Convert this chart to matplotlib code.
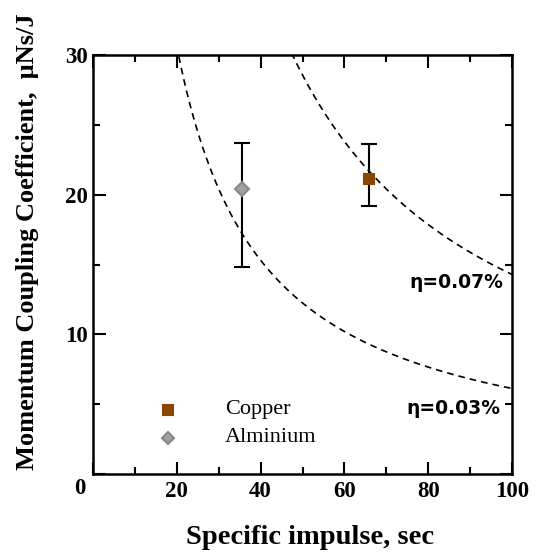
import numpy as np
import matplotlib
matplotlib.use("Agg")
import matplotlib.pyplot as plt
from matplotlib.ticker import MultipleLocator, FuncFormatter

# Data
materials = ["Copper", "Alminium"]
isp = [65.9, 35.5]
cm = [21.1, 20.4]
cm_low = [19.2, 14.8]
cm_high = [23.6, 23.7]
colors = ["#8B4500", "#A0A0A0"]
markers = ["s", "D"]
etas_percent = [0.07, 0.03]
eta_labels = ["η=0.07%", "η=0.03%"]
g = 9.8

fig = plt.figure(figsize=(5.36, 5.54), dpi=100)
ax = fig.add_axes([93/536, 1-474/554, (512-93)/536, (474-55)/554])

serif = "Liberation Serif"

# efficiency curves: Cm = 2*eta/(g*Isp)
x = np.linspace(1, 100, 400)
for e in etas_percent:
    k = 2 * e / g * 1e5
    ax.plot(x, k / x, linestyle=(0, (4, 3)), color="black", lw=1.2)

for i, name in enumerate(materials):
    ax.errorbar([isp[i]], [cm[i]],
                yerr=[[cm[i]-cm_low[i]], [cm_high[i]-cm[i]]],
                fmt="none", ecolor="black", elinewidth=1.5, capsize=6, capthick=1.5, zorder=3)
    ax.plot([isp[i]], [cm[i]], marker=markers[i], color=colors[i],
            markersize=7,
            markeredgecolor=colors[i] if markers[i] == "s" else "#888888",
            markerfacecolor=colors[i], markeredgewidth=1.5, linestyle="none", zorder=4)

# legend (manual positions in data coords)
leg_y = [4.6, 2.6]
for i, name in enumerate(materials):
    ax.plot([17.9], [leg_y[i]], marker=markers[i], color=colors[i],
            markersize=7 if markers[i] == "s" else 6,
            markeredgecolor=colors[i] if markers[i] == "s" else "#888888",
            markeredgewidth=1.5, linestyle="none")
    ax.text(31.5, leg_y[i], name, fontsize=16, family=serif, va="center", ha="left")

ax.text(97.9, 13.7, eta_labels[0], fontsize=13.5, fontweight="bold", family="DejaVu Sans",
        ha="right", va="center")
ax.text(97.3, 4.7, eta_labels[1], fontsize=13.5, fontweight="bold", family="DejaVu Sans",
        ha="right", va="center")

ax.set_xlim(0, 100)
ax.set_ylim(0, 30)
ax.xaxis.set_major_locator(MultipleLocator(20))
ax.xaxis.set_minor_locator(MultipleLocator(10))
ax.yaxis.set_major_locator(MultipleLocator(10))
ax.yaxis.set_minor_locator(MultipleLocator(5))
ax.xaxis.set_major_formatter(FuncFormatter(lambda v, p: "" if v == 0 else f"{v:g}"))
ax.yaxis.set_major_formatter(FuncFormatter(lambda v, p: "" if v == 0 else f"{v:g}"))
ax.tick_params(which="both", direction="in", top=True, right=True, width=1.5)
ax.tick_params(which="major", length=9)
ax.tick_params(which="minor", length=5)
ax.tick_params(axis="x", pad=5)
ax.tick_params(axis="y", pad=4)
for lab in ax.get_xticklabels() + ax.get_yticklabels():
    lab.set_family(serif)
    lab.set_fontweight("bold")
    lab.set_fontsize(16.5)
for s in ax.spines.values():
    s.set_linewidth(1.8)

# corner zero label
fig.text(80/536, 1-488/554, "0", family=serif, fontweight="bold", fontsize=16.5,
         ha="center", va="center")

ax.set_xlabel("Specific impulse, sec", family=serif, fontweight="bold", fontsize=20.5)
ax.xaxis.set_label_coords((310-93)/419, -(537-474)/419)
ax.set_ylabel("Momentum Coupling Coefficient,  μNs/J", family=serif, fontweight="bold",
              fontsize=19)
ax.yaxis.set_label_coords(-(93-28)/419, (474-242)/419)
ax.yaxis.label.set_va("center")
ax.xaxis.label.set_va("center")

fig.savefig("out.png", dpi=100)
